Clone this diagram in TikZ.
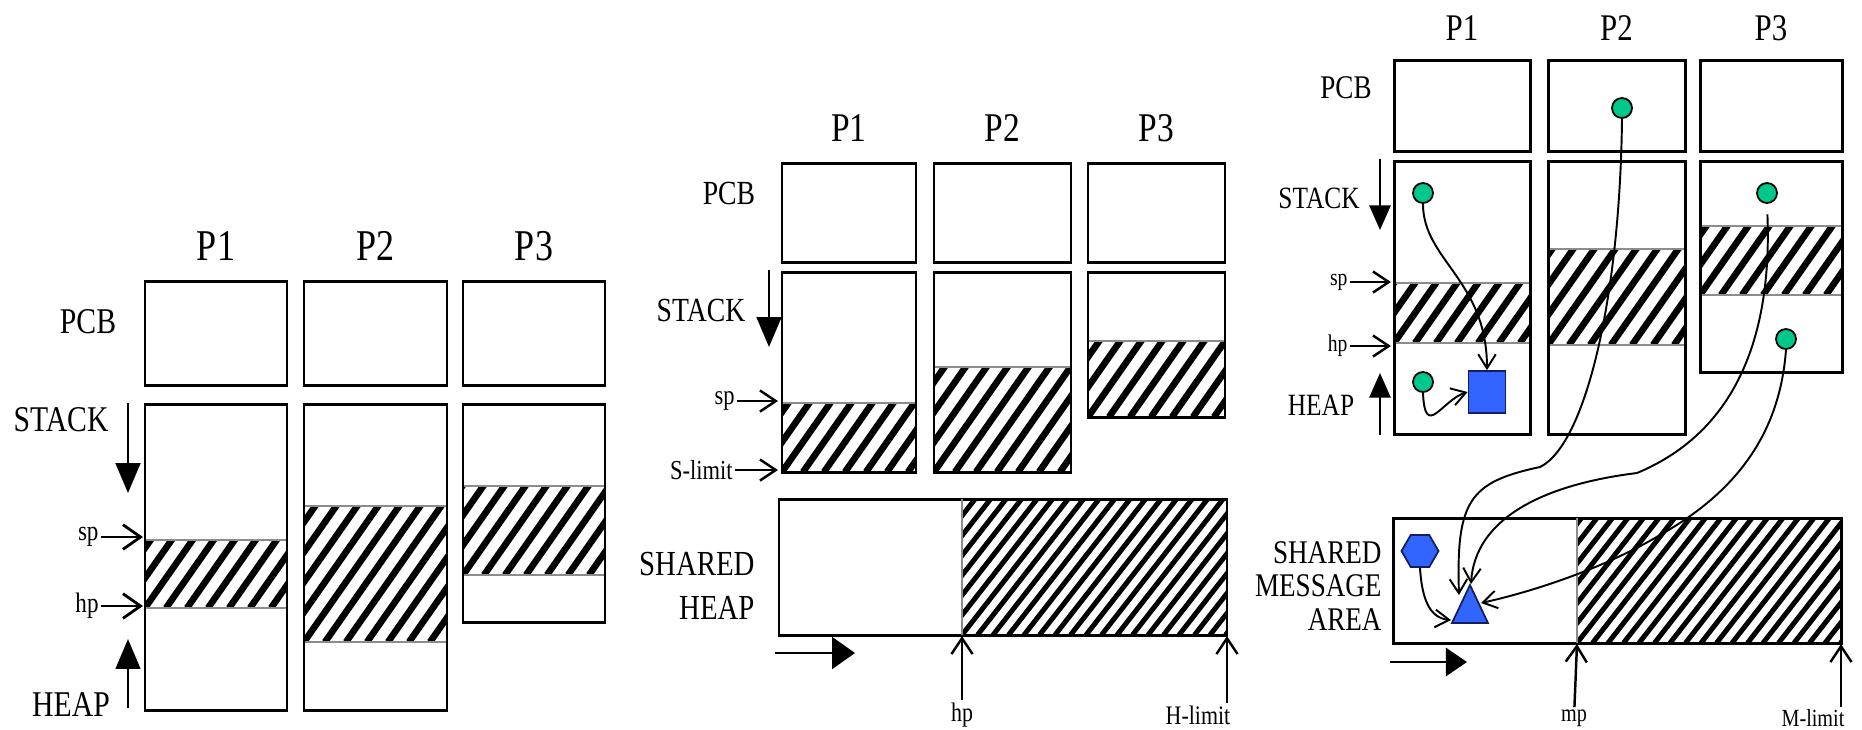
\documentclass[tikz,border=0pt]{standalone}
\usepackage{fontspec}
\setmainfont{Liberation Serif}[FakeStretch=0.82]
\usetikzlibrary{arrows.meta}
\usetikzlibrary{shapes.geometric}

\definecolor{dotgreen}{RGB}{0,200,140}
\definecolor{objblue}{RGB}{50,100,255}
\definecolor{objedge}{RGB}{20,30,90}

% hatched band: stripe style, x1, y1, x2, y2
\newcommand{\hatchband}[5]{%
  \begin{scope}
    \clip (#2,#3) rectangle (#4,#5);
    \foreach \k in {-10,...,22}
      \draw[#1] ({#2+\k*\hstep},#5) -- ++(\hdx,-300);
  \end{scope}
  \draw[bandedge] (#2,#3) -- (#4,#3) (#2,#5) -- (#4,#5);
}

\begin{document}
\begin{tikzpicture}[x=0.01cm, y=-0.01cm,
    box/.style={draw, line width=0.85pt},
    coarse/.style={line width=0.066cm, /utils/exec={\def\hstep{21}\def\hdx{210}}},
    fine/.style={line width=0.05cm, /utils/exec={\def\hstep{15.5}\def\hdx{234}}},
    bandedge/.style={draw=black!45, line width=0.3pt},
    lbl/.style={font=\fontsize{#1}{#1}\selectfont, inner sep=0.5pt},
    ptr/.style={line width=0.7pt, -{Straight Barb[length=4.5pt,width=6pt]}},
    bigptr/.style={line width=0.8pt, -{Straight Barb[length=5pt,width=7pt]}},
    growarrow/.style 2 args={line width=0.75pt, -{Triangle[length=#1,width=#2]}},
    dot/.style={circle, draw, fill=dotgreen, line width=0.5pt, minimum size=0.2cm, inner sep=0pt},
    obj/.style={draw=objedge, fill=objblue, line width=0.5pt, inner sep=0pt},
    link/.style={line width=0.55pt, -{Straight Barb[length=4pt,width=5pt]}}
]
\useasboundingbox (0,0) rectangle (1862,729);

% Panel 1: private heaps
\hatchband{coarse}{145}{540}{287}{608}
\hatchband{coarse}{304}{506}{447}{642}
\hatchband{coarse}{463}{486}{605}{575}
\foreach \xa/\xb/\yb/\p in {145/287/710/P1, 304/447/710/P2, 463/605/622/P3} {
  \draw[box] (\xa,281) rectangle (\xb,385);
  \draw[box] (\xa,404) rectangle (\xb,\yb);
  \node[lbl=12.5] (a\p) at ({(\xa+\xb)/2},246) {\p};
}
\node[lbl=10.3] (pcbA) at (88,322) {PCB};
\node[lbl=10.3] (stackA) at (61,420) {STACK};
\node[lbl=10.3] (heapA) at (71,705) {HEAP};
\node[lbl=8, anchor=east] (spA) at (101,537) {sp};
\node[lbl=8, anchor=east] (hpA) at (101,606) {hp};
\coordinate (spAend) at (143,537);
\coordinate (hpAend) at (143,606);
\coordinate (stackAtop) at (128,403);
\coordinate (stackAtip) at (128,493);
\coordinate (heapAbot) at (128,708);
\coordinate (heapAtip) at (128,639);
\draw[bigptr] (spA) -- (spAend);
\draw[bigptr] (hpA) -- (hpAend);
\draw[growarrow={8.5pt}{7pt}] (stackAtop) -- (stackAtip);
\draw[growarrow={8.5pt}{7pt}] (heapAbot) -- (heapAtip);

% Panel 2: shared heap
\hatchband{coarse}{782}{403}{916}{472}
\hatchband{coarse}{934}{367}{1071}{472}
\hatchband{coarse}{1088}{341}{1225}{417}
\hatchband{fine}{962}{499}{1227}{635}
\foreach \xa/\xb/\yb/\p in {782/916/472/P1, 934/1071/472/P2, 1088/1225/417/P3} {
  \draw[box] (\xa,163) rectangle (\xb,262);
  \draw[box] (\xa,272) rectangle (\xb,\yb);
  \node[lbl=11.6] (b\p) at ({(\xa+\xb)/2},128) {\p};
}
\draw[box] (779,499) rectangle (1227,635);
\draw[bandedge] (962,499) -- (962,635);
\node[lbl=9.6] (pcbB) at (729,193) {PCB};
\node[lbl=9.6] (stackB) at (701,310) {STACK};
\node[lbl=7.8, anchor=east] (spB) at (737,401) {sp};
\node[lbl=7.8, anchor=east] (slimB) at (735,470) {S-limit};
\node[font=\fontsize{10}{12.5}\selectfont, inner sep=0.5pt, align=right, anchor=east] (shB) at (757,586) {SHARED\\HEAP};
\node[lbl=7.6] (hpB) at (962,715) {hp};
\node[lbl=7.6] (hlimB) at (1198,715) {H-limit};
\coordinate (spBend) at (778,401);
\coordinate (slimBend) at (778,470);
\coordinate (stackBtop) at (769,270);
\coordinate (stackBtip) at (769,347);
\coordinate (grBstart) at (775,653);
\coordinate (grBtip) at (855,653);
\coordinate (hpBtip) at (962,636);
\coordinate (hlimBtip) at (1227,636);
\draw[ptr] (spB) -- (spBend);
\draw[ptr] (slimB) -- (slimBend);
\draw[growarrow={8.5pt}{7pt}] (stackBtop) -- (stackBtip);
\draw[growarrow={6.5pt}{9pt}] (grBstart) -- (grBtip);
\draw[ptr] (hpB) -- (hpBtip);
\draw[ptr] (hlimB.north -| hlimBtip) -- (hlimBtip);

% Panel 3: shared message area
\hatchband{coarse}{1394}{283}{1530}{343}
\hatchband{coarse}{1548}{249}{1685}{345}
\hatchband{coarse}{1700}{226}{1842}{295}
\hatchband{fine}{1577}{518}{1841}{643}
\foreach \xa/\xb/\yb/\p in {1394/1530/434/P1, 1548/1685/434/P2, 1700/1842/372/P3} {
  \draw[box] (\xa,60) rectangle (\xb,151);
  \draw[box] (\xa,161) rectangle (\xb,\yb);
  \node[lbl=10.7] (c\p) at ({(\xa+\xb)/2},28) {\p};
}
\draw[box] (1393,518) rectangle (1841,643);
\draw[bandedge] (1577,518) -- (1577,643);
\node[lbl=9.4] (pcbC) at (1346,88) {PCB};
\node[lbl=8.8] (stackC) at (1319,198) {STACK};
\node[lbl=8.8] (heapC) at (1321,405) {HEAP};
\node[lbl=6.8, anchor=east] (spC) at (1350,282) {sp};
\node[lbl=6.8, anchor=east] (hpC) at (1350,346) {hp};
\node[font=\fontsize{9.4}{9.4}\selectfont, inner sep=0.5pt, align=right, anchor=east] (shC) at (1384,586) {SHARED\\MESSAGE\\AREA};
\node[lbl=7] (mpC) at (1574,718) {mp};
\node[lbl=7] (mlimC) at (1813,718) {M-limit};
\coordinate (spCend) at (1391,282);
\coordinate (hpCend) at (1391,346);
\coordinate (stackCtop) at (1380,159);
\coordinate (stackCtip) at (1380,230);
\coordinate (heapCbot) at (1380,435);
\coordinate (heapCtip) at (1380,373);
\coordinate (grCstart) at (1390,662);
\coordinate (grCtip) at (1467,662);
\coordinate (mpCtip) at (1577,644);
\coordinate (mlimCtip) at (1841,644);
\draw[ptr] (spC) -- (spCend);
\draw[ptr] (hpC) -- (hpCend);
\draw[growarrow={7pt}{6pt}] (stackCtop) -- (stackCtip);
\draw[growarrow={7pt}{6pt}] (heapCbot) -- (heapCtip);
\draw[growarrow={6pt}{8pt}] (grCstart) -- (grCtip);
\draw[ptr] (mpC) -- (mpCtip);
\draw[ptr] (mlimC.north -| mlimCtip) -- (mlimCtip);

% Objects and references
\node[dot] (dotA) at (1423,193) {};
\node[dot] (dotB) at (1423,382) {};
\node[dot] (dotC) at (1622,108) {};
\node[dot] (dotD) at (1767,193) {};
\node[dot] (dotE) at (1786,339) {};
\node[obj, minimum width=0.37cm, minimum height=0.42cm] (sqA) at (1487,392) {};
\node[obj, regular polygon, regular polygon sides=6, minimum size=0.37cm] (hexA) at (1420,551) {};
\draw[obj] (1452,623) -- (1470,585) -- (1488,623) -- cycle;
\coordinate (triL) at (1459,595);
\coordinate (triT) at (1471,584);
\coordinate (triR) at (1481,603);
\coordinate (triB) at (1451,620);

\draw[link] (dotA.south) .. controls (1423,260) and (1487,280) .. (sqA.north);
\draw[link] (dotB.south) .. controls (1425,440) and (1442,400) .. (sqA.west);
\draw[link] (dotC.south) .. controls (1620,300) and (1585,445) .. (1540,467)
  .. controls (1470,482) and (1456,500) .. (triL);
\draw[link, shorten <=3pt] (dotD.south) .. controls (1772,330) and (1740,430) .. (1637,473)
  .. controls (1540,485) and (1475,520) .. (triT);
\draw[link] (dotE.south) .. controls (1780,430) and (1740,490) .. (1660,535)
  .. controls (1610,565) and (1540,590) .. (triR);
\draw[link] (hexA.south) .. controls (1422,600) and (1430,618) .. (triB);

\end{tikzpicture}
\end{document}
